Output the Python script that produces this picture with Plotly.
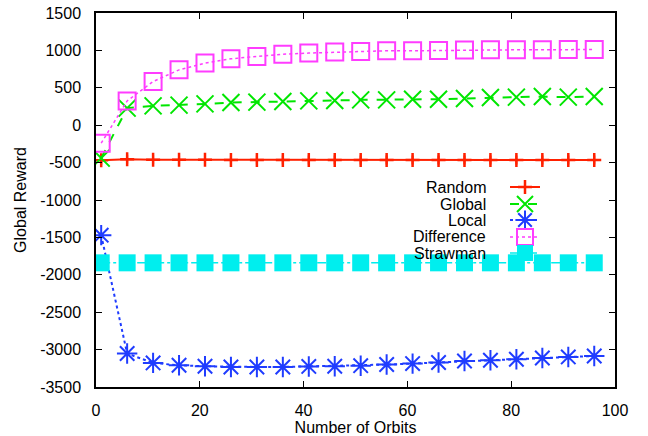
import plotly.graph_objects as go

orbits = [1, 6, 11, 16, 21, 26, 31, 36, 41, 46, 51, 56, 61, 66, 71, 76, 81, 86, 91, 96]
random_r = [-470, -455, -462, -462, -463, -465, -465, -465, -465, -465,
            -465, -465, -465, -465, -465, -465, -465, -465, -465, -465]
global_r = [-440, 228, 258, 268, 285, 303, 308, 316, 325, 330,
            339, 339, 348, 348, 357, 370, 375, 383, 375, 383]
local_r = [-1470, -3053, -3178, -3210, -3223, -3232, -3232, -3232, -3225, -3222,
           -3215, -3200, -3187, -3173, -3152, -3143, -3129, -3112, -3098, -3085]
difference_r = [-241, 325, 584, 740, 830, 888, 919, 950, 964, 977,
                985, 995, 995, 1000, 1004, 1008, 1008, 1008, 1012, 1012]
strawman_r = [-1840] * 20

series_names = ["Random", "Global", "Local", "Difference", "Strawman"]
x_ticks = [0, 20, 40, 60, 80, 100]
x_ticktext = ["0", "20", "40", "60", "80", "100"]
y_ticks = [1500, 1000, 500, 0, -500, -1000, -1500, -2000, -2500, -3000, -3500]
y_ticktext = ["1500", "1000", "500", "0", "-500", "-1000", "-1500", "-2000", "-2500", "-3000", "-3500"]

FONT = "Liberation Sans, Arial, Helvetica, sans-serif"
FS = 16

styles = [
    dict(color="#ff2000", dash="solid", width=2, symbol="cross-thin", size=10, mlw=2.5),
    dict(color="#00e600", dash="dash", width=2, symbol="x-thin", size=17, mlw=2),
    dict(color="#1f3cff", dash="dot", width=2, symbol="asterisk", size=17, mlw=2),
    dict(color="#ff3cff", dash="dot", width=1.5, symbol="square-open", size=17, mlw=2),
    dict(color="#00eeee", dash="dashdot", width=1.5, symbol="square", size=17, mlw=0),
]
values = [random_r, global_r, local_r, difference_r, strawman_r]

W, H = 648, 436
PL, PR, PT, PB = 96, 615, 13, 387
PW, PH = PR - PL, PB - PT

legend_rows_px = [187, 204, 220, 237, 253]  # pixel rows of the key
key_x_px = 505
text_right_px = 488

fig = go.Figure()
legend_layout = {}
annotations = []
for i, (name, vals, st) in enumerate(zip(series_names, values, styles)):
    kw = {}
    if name == "Random":
        kw["error_y"] = dict(type="constant", value=60, color=st["color"], thickness=2, width=0)
    lg = "legend" if i == 0 else f"legend{i + 1}"
    fig.add_trace(go.Scatter(
        x=orbits, y=vals, mode="lines+markers", name=" ", legend=lg,
        line=dict(color=st["color"], dash=st["dash"], width=st["width"]),
        marker=dict(symbol=st["symbol"], size=st["size"], color=st["color"],
                    line=dict(color=st["color"], width=st["mlw"])),
        **kw,
    ))
    ypx = legend_rows_px[i]
    legend_layout[lg] = dict(
        x=(key_x_px - PL) / PW, y=1 - (ypx - PT) / PH,
        xanchor="left", yanchor="middle", bgcolor="rgba(0,0,0,0)",
        font=dict(family=FONT, size=12), itemwidth=30,
    )
    annotations.append(dict(
        text=name, xref="paper", yref="paper",
        x=(text_right_px - PL) / PW, y=1 - (ypx - PT) / PH,
        xanchor="right", yanchor="middle", showarrow=False,
        font=dict(family=FONT, size=FS, color="black"),
    ))

axis_common = dict(
    showline=True, linecolor="black", linewidth=1.5, mirror="allticks",
    ticks="inside", ticklen=6, tickwidth=1, tickcolor="black",
    showgrid=False, zeroline=False, automargin=False, ticklabeloverflow="allow",
    tickfont=dict(family=FONT, size=FS, color="black"),
)

fig.update_layout(
    width=W, height=H,
    margin=dict(l=PL, r=W - PR, t=PT, b=H - PB),
    paper_bgcolor="white", plot_bgcolor="white",
    font=dict(family=FONT, size=FS, color="black"),
    showlegend=True,
    annotations=annotations,
    xaxis=dict(range=[0, 100], tickvals=x_ticks, ticktext=x_ticktext,
               title=dict(text="Number of Orbits", standoff=6,
                          font=dict(family=FONT, size=FS)),
               ticklabelstandoff=8, **axis_common),
    yaxis=dict(range=[-3500, 1500], tickvals=y_ticks, ticktext=y_ticktext,
               title=dict(text="Global Reward", standoff=10,
                          font=dict(family=FONT, size=FS)),
               ticklabelstandoff=10, **axis_common),
    **legend_layout,
)

fig.write_html("out.html", config={"displayModeBar": False},
               post_script="document.body.style.margin='0';")
